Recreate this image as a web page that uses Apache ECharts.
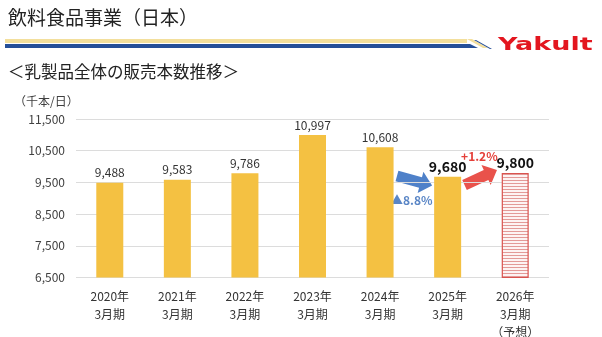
<!DOCTYPE html>
<html>
<head>
<meta charset="utf-8">
<script src="https://cdn.jsdelivr.net/npm/echarts@6/dist/echarts.min.js"></script>
<style>
  html, body { margin: 0; padding: 0; background: #ffffff; }
  #chart { width: 602px; height: 337px; }
</style>
</head>
<body>
<div id="chart"></div>
<script>
// Fiscal years (ending March) and daily unit sales of dairy products, thousand bottles/day
const years = ['2020年', '2021年', '2022年', '2023年', '2024年', '2025年', '2026年'];
const periodSuffix = '3月期';
const forecastNote = '（予想）';
const forecastIndex = 6;
const sales = [9488, 9583, 9786, 10997, 10608, 9680, 9800];
const yTicks = [6500, 7500, 8500, 9500, 10500, 11500];
const changeLabels = ['▲8.8%', '+1.2%'];

const FONT = '"Noto Sans CJK JP", "Noto Sans", sans-serif';
const fmt = v => Number(v).toLocaleString('en-US');

const categories = years.map((y, i) =>
  y + '\n' + periodSuffix + (i === forecastIndex ? '\n' + forecastNote : ''));

// horizontal hatch used for the forecast bar
const hatch = document.createElement('canvas');
hatch.width = 4; hatch.height = 3;
(function () {
  const c = hatch.getContext('2d');
  c.fillStyle = '#fdf3f3'; c.fillRect(0, 0, 4, 3);
  c.fillStyle = '#e39a98'; c.fillRect(0, 0, 4, 1);
})();

const barData = sales.map((v, i) => {
  const item = { value: v };
  if (i >= sales.length - 2) {
    item.label = { fontWeight: 'bold', fontSize: 14, color: '#111', distance: 3 };
  }
  if (i === forecastIndex) {
    item.itemStyle = { color: { image: hatch, repeat: 'repeat' }, borderColor: '#d9534f', borderWidth: 1.2 };
  }
  return item;
});

const chart = echarts.init(document.getElementById('chart'), null, { renderer: 'canvas' });

const headerGraphics = [
  { type: 'text', left: 8, top: 8, style: { text: '飲料食品事業（日本）', font: '19px ' + FONT, fill: '#222' } },
  { type: 'rect', shape: { x: 5, y: 39, width: 462, height: 4 }, style: { fill: '#f3df9c' } },
  { type: 'rect', shape: { x: 5, y: 44, width: 462, height: 4 }, style: { fill: '#254f98' } },
  { type: 'polygon', shape: { points: [[467, 39], [472, 39], [488, 48], [483, 48]] }, style: { fill: '#f3df9c' } },
  { type: 'polygon', shape: { points: [[467, 44], [470, 44], [478, 48], [467, 48]] }, style: { fill: '#254f98' } },
  { type: 'polygon', shape: { points: [[474, 40], [476, 40], [492, 49], [490, 49]] }, style: { fill: '#254f98' } },
  { type: 'text', x: 498, y: 36, scaleX: 1.5, style: { text: 'Yakult', font: '900 18px "DejaVu Sans", sans-serif', fill: '#e3161f' } },
  { type: 'text', left: 8, top: 63, style: { text: '＜乳製品全体の販売本数推移＞', font: '16.5px ' + FONT, fill: '#222' } },
  { type: 'text', left: 14, top: 95, style: { text: '（千本/日）', font: '12px ' + FONT, fill: '#404040' } }
];

chart.setOption({
  animation: false,
  backgroundColor: '#ffffff',
  textStyle: { fontFamily: FONT },
  grid: { left: 76, right: 53, top: 119, bottom: 59.5, containLabel: false, outerBoundsMode: 'none' },
  xAxis: {
    type: 'category',
    data: categories,
    axisLine: { show: false },
    axisTick: { show: false },
    axisLabel: { color: '#333', fontSize: 12, lineHeight: 18, margin: 10, fontFamily: FONT, interval: 0 }
  },
  yAxis: {
    type: 'value',
    min: yTicks[0],
    max: yTicks[yTicks.length - 1],
    interval: 500,
    axisLine: { show: false },
    axisTick: { show: false, customValues: yTicks },
    splitLine: { show: true, lineStyle: { color: '#dcdcdc', width: 1 } },
    axisLabel: { customValues: yTicks, color: '#404040', fontSize: 12, margin: 11, fontFamily: FONT, formatter: fmt }
  },
  series: [{
    type: 'bar',
    data: barData,
    barWidth: 27,
    itemStyle: { color: '#f4c142' },
    label: { show: true, position: 'top', distance: 4, fontSize: 12, color: '#333', fontFamily: FONT, formatter: p => fmt(p.value) }
  }],
  graphic: headerGraphics
});

// Change arrows between the last three bars, placed through the chart's own scales
function px(idx, val) {
  const i0 = Math.floor(idx), f = idx - i0;
  const a = chart.convertToPixel({ gridIndex: 0 }, [i0, val]);
  const b = chart.convertToPixel({ gridIndex: 0 }, [i0 + 1, val]);
  return [a[0] + (b[0] - a[0]) * f, a[1]];
}
function arrow(tail, tip, shaftHalf, headHalf, headLen) {
  const dx = tip[0] - tail[0], dy = tip[1] - tail[1];
  const len = Math.hypot(dx, dy), ux = dx / len, uy = dy / len, nx = -uy, ny = ux;
  const bx = tip[0] - ux * headLen, by = tip[1] - uy * headLen;
  return [
    [tail[0] + nx * shaftHalf, tail[1] + ny * shaftHalf],
    [bx + nx * shaftHalf, by + ny * shaftHalf],
    [bx + nx * headHalf, by + ny * headHalf],
    tip,
    [bx - nx * headHalf, by - ny * headHalf],
    [bx - nx * shaftHalf, by - ny * shaftHalf],
    [tail[0] - nx * shaftHalf, tail[1] - ny * shaftHalf]
  ];
}

const n = sales.length;
const blueTail = px(n - 3 + 0.25, 9700), blueTip = px(n - 2 - 0.23, 9400);
const redTail = px(n - 2 + 0.25, 9420), redTip = px(n - 1 - 0.27, 9890);
const dropPos = px(n - 3 + 0.47, 8930), risePos = px(n - 2 + 0.47, 10310);

chart.setOption({
  graphic: headerGraphics.concat([
    { type: 'polygon', shape: { points: arrow(blueTail, blueTip, 5.5, 11, 12) }, style: { fill: '#4f81c9' } },
    { type: 'polygon', shape: { points: arrow(redTail, redTip, 5.5, 11, 12) }, style: { fill: '#e9524b' } },
    { type: 'text', x: dropPos[0], y: dropPos[1], style: { text: changeLabels[0], font: 'bold 12px ' + FONT, fill: '#5a86c6', align: 'center', verticalAlign: 'middle' } },
    { type: 'text', x: risePos[0], y: risePos[1], style: { text: changeLabels[1], font: 'bold 12px ' + FONT, fill: '#e5403a', align: 'center', verticalAlign: 'middle' } }
  ])
});
</script>
</body>
</html>
